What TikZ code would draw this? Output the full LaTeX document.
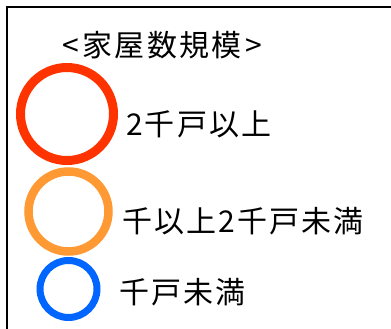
\documentclass[tikz,border=0pt]{standalone}
\usepackage{fontspec}
\setmainfont{Noto Sans CJK JP}[LetterSpace=7]
\definecolor{cred}{HTML}{FF3300}
\definecolor{corange}{HTML}{FF9933}
\definecolor{cblue}{HTML}{0066FF}
\begin{document}
\begin{tikzpicture}[x=1bp,y=-1bp,
  lbl/.style={anchor=west,inner sep=0pt,font=\fontsize{30bp}{32bp}\selectfont},
  ring/.style={line width=#1}]
\useasboundingbox (0,0) rectangle (391,329);
\coordinate (tl) at (7,7);
\coordinate (tr) at (392,7);
\coordinate (bl) at (7,330);
\draw[line width=2bp] (tr) -- (tl) -- (bl);
\node[lbl] (title) at (62,45) {<\hspace{4bp}家屋数規模\hspace{4bp}>};
\node[draw=cred,ring=9bp,circle,minimum size=93bp,inner sep=0pt] (c1) at (67,114) {};
\node[draw=corange,ring=8.5bp,circle,minimum size=80bp,inner sep=0pt] (c2) at (68.5,211.5) {};
\node[draw=cblue,ring=7bp,circle,minimum size=57bp,inner sep=0pt] (c3) at (68.5,289) {};
\node[lbl] (t1) at (126,124) {2千戸以上};
\node[lbl] (t2) at (122,221) {千以上2千戸未満};
\node[lbl] (t3) at (119,292) {千戸未満};
\end{tikzpicture}
\end{document}
